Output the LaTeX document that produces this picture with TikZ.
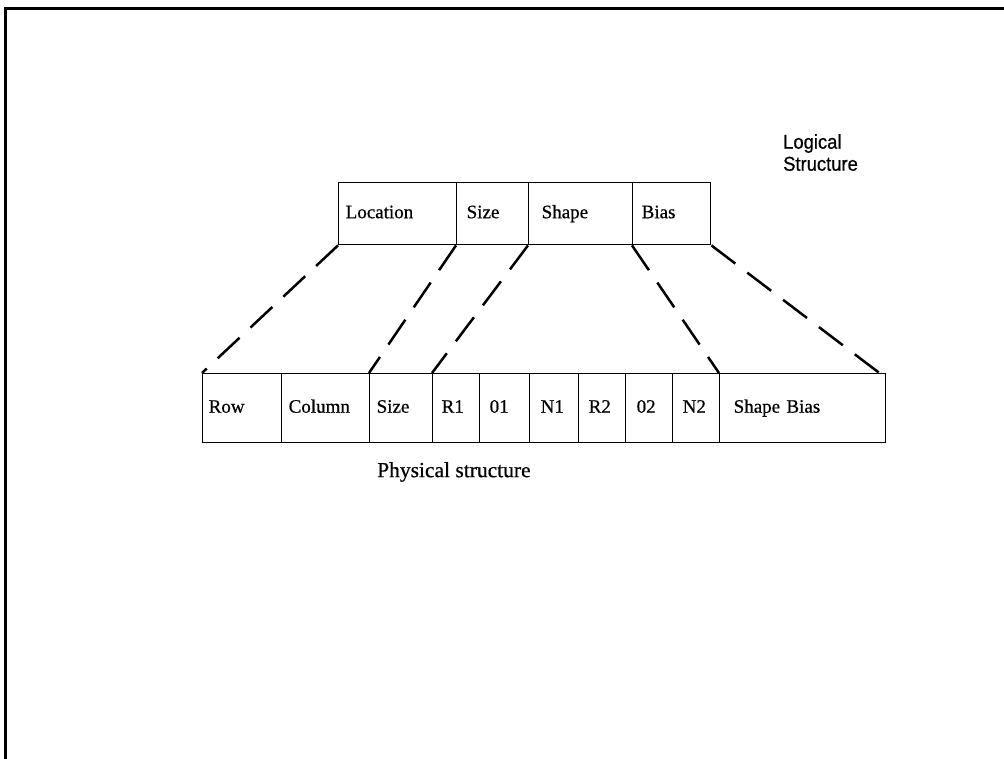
\documentclass[tikz,border=0pt]{standalone}
\usepackage{fontspec}
\setmainfont{Liberation Serif}
\newfontfamily\cellfont[FakeBold=0.6]{Liberation Serif}
\newfontfamily\headfont[FakeStretch=0.92,FakeBold=0.6]{Liberation Sans}
\begin{document}
\begin{tikzpicture}[x=1pt,y=-1pt,
  cell/.style={draw, line width=1.4pt, anchor=north west, inner xsep=0pt,
    align=left, text height=13pt, text depth=4pt,
    font=\cellfont\fontsize{19}{21}\selectfont},
  top/.style={cell, minimum height=62pt},
  bot/.style={cell, minimum height=69pt},
  link/.style={line width=2.5pt, dash pattern=on 30pt off 15pt},
  frame/.style={line width=3pt}]
\useasboundingbox (0,0) rectangle (1004,758);

% outer frame (left and top edges)
\draw[frame] (5,760) |- (1006,8);

% logical record
\node[top, minimum width=118pt, text width=104pt] (loc)    at (338,182) {Location};
\node[top, minimum width=72pt,  text width=52pt]  (tsize)  at (456,182) {Size};
\node[top, minimum width=104pt, text width=78pt]  (tshape) at (528,182) {Shape};
\node[top, minimum width=78pt,  text width=60pt]  (tbias)  at (632,182) {Bias};

% physical record
\node[bot, minimum width=79pt,  text width=67pt]  (row)   at (202,373) {Row};
\node[bot, minimum width=88pt,  text width=74pt]  (col)   at (281,373) {Column};
\node[bot, minimum width=63pt,  text width=49pt]  (bsize) at (369,373) {Size};
\node[bot, minimum width=47pt,  text width=29pt]  (r1)    at (432,373) {R1};
\node[bot, minimum width=50pt,  text width=30pt]  (o1)    at (479,373) {01};
\node[bot, minimum width=49pt,  text width=27pt]  (n1)    at (529,373) {N1};
\node[bot, minimum width=47pt,  text width=27pt]  (r2)    at (578,373) {R2};
\node[bot, minimum width=47pt,  text width=25pt]  (o2)    at (625,373) {02};
\node[bot, minimum width=47pt,  text width=27pt]  (n2)    at (672,373) {N2};
\node[bot, minimum width=166pt, text width=138pt] (sb)    at (719,373) {Shape Bias};

% field mapping
\coordinate (sbend) at ([xshift=-7pt]sb.north east);
\draw[link] (loc.south west)    -- (row.north west);
\draw[link] (tsize.south west)  -- (bsize.north west);
\draw[link] (tshape.south west) -- (r1.north west);
\draw[link] (tbias.south west)  -- (sb.north west);
\draw[link] (tbias.south east)  -- (sbend);

% captions
\node[anchor=west, inner sep=0pt, font=\cellfont\fontsize{21.5}{24}\selectfont] (phys) at (377,472) {Physical structure};
\node[anchor=north west, inner sep=0pt, align=left,
  font=\headfont\fontsize{20}{22}\selectfont] (logi) at (783,134) {Logical\\Structure};
\end{tikzpicture}
\end{document}
